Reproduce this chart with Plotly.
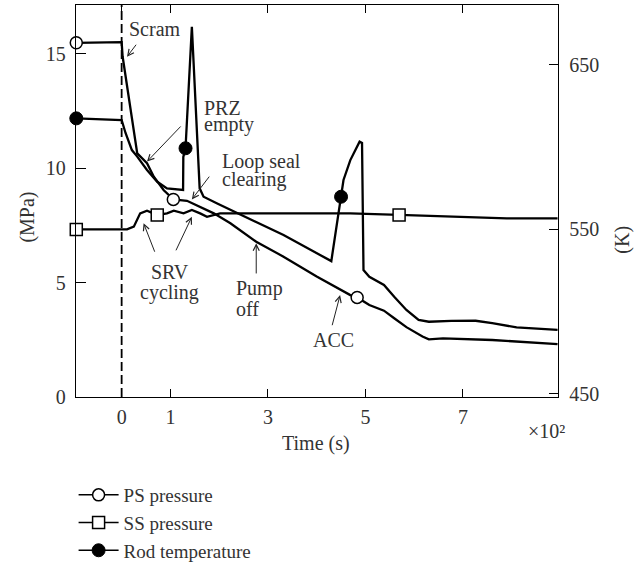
import plotly.graph_objects as go

# ---------------- data (time in x10^2 s) ----------------
t_ps = [-0.93, 0.0, 0.02, 0.32, 0.52, 0.66, 0.86, 1.06, 1.34, 1.61, 1.89, 2.23, 2.76,
        3.32, 4.00, 4.69, 4.83, 5.08, 5.38, 5.59, 5.84, 6.17, 6.30, 6.59, 7.60, 8.94]
p_ps = [15.47, 15.50, 14.87, 10.64, 10.21, 9.62, 9.04, 8.63, 8.57, 8.31, 8.02, 7.59, 6.78,
        6.13, 5.26, 4.45, 4.35, 4.02, 3.77, 3.44, 3.05, 2.64, 2.52, 2.56, 2.49, 2.31]
ps_marker_idx = [0, 7, 16]

t_ss = [-0.93, 0.11, 0.25, 0.38, 0.52, 0.73, 0.93, 1.07, 1.27, 1.44, 1.61, 1.75, 2.02,
        2.64, 3.32, 4.69, 5.69, 7.08, 7.90, 8.94]
p_ss = [7.32, 7.32, 7.44, 8.02, 8.14, 7.95, 8.02, 8.14, 8.02, 8.17, 8.02, 7.87, 8.02,
        8.02, 8.05, 8.02, 7.95, 7.87, 7.80, 7.80]
ss_marker_idx = [0, 5, 16]

t_rod = [-0.93, 0.0, 0.08, 0.21, 0.32, 0.52, 0.73, 0.93, 1.26, 1.265, 1.31, 1.44, 1.60,
         1.68, 1.95, 2.50, 3.32, 4.30, 4.50, 4.55, 4.69, 4.88, 4.93, 4.96, 5.08, 5.38,
         5.59, 5.84, 6.09, 6.30, 6.76, 7.26, 7.60, 8.10, 8.94]
k_rod = [617.5, 616.5, 608.6, 598.2, 594.2, 586.1, 578.9, 574.9, 573.9, 594.0, 599.3, 673.3, 574.9,
         569.8, 565.8, 558.1, 546.5, 530.6, 569.8, 580.0, 592.1, 603.3, 602.5, 525.2, 521.1, 516.1,
         508.9, 500.9, 494.8, 493.7, 494.2, 494.3, 492.8, 490.3, 488.7]
rod_marker_idx = [0, 10, 18]

x_ticks = [0, 1, 3, 5, 7]
y_ticks = [0, 5, 10, 15]
y2_ticks = [450, 550, 650]

FONT = "Liberation Serif"
TXT = "#333333"
LW = 2.3


def pick(seq, idx):
    out = []
    for n, i in enumerate(idx):
        if n:
            out.append(None)
        out.append(seq[i])
    return out


fig = go.Figure()

# curves
fig.add_trace(go.Scatter(x=t_ps, y=p_ps, mode="lines", line=dict(color="black", width=LW),
                         showlegend=False, cliponaxis=False))
fig.add_trace(go.Scatter(x=t_ss, y=p_ss, mode="lines", line=dict(color="black", width=LW),
                         showlegend=False, cliponaxis=False))
fig.add_trace(go.Scatter(x=t_rod, y=k_rod, mode="lines", yaxis="y2",
                         line=dict(color="black", width=LW), showlegend=False, cliponaxis=False))

# markers (also legend entries)
fig.add_trace(go.Scatter(x=pick(t_ps, ps_marker_idx), y=pick(p_ps, ps_marker_idx),
                         mode="lines+markers", name="PS pressure", connectgaps=False,
                         line=dict(color="black", width=1.5),
                         marker=dict(symbol="circle", size=12, color="white",
                                     line=dict(color="black", width=1.5)),
                         cliponaxis=False))
fig.add_trace(go.Scatter(x=pick(t_ss, ss_marker_idx), y=pick(p_ss, ss_marker_idx),
                         mode="lines+markers", name="SS pressure", connectgaps=False,
                         line=dict(color="black", width=1.5),
                         marker=dict(symbol="square", size=12, color="white",
                                     line=dict(color="black", width=1.5)),
                         cliponaxis=False))
fig.add_trace(go.Scatter(x=pick(t_rod, rod_marker_idx), y=pick(k_rod, rod_marker_idx),
                         mode="lines+markers", name="Rod temperature", connectgaps=False, yaxis="y2",
                         line=dict(color="black", width=1.5),
                         marker=dict(symbol="circle", size=13, color="black",
                                     line=dict(color="black", width=1)),
                         cliponaxis=False))

annotations = []
# arrows: (tip_x, tip_y, tail_x, tail_y) in data coords (left axis)
arrows = [
    (0.11, 14.86, 0.32, 15.45),   # Scram
    (0.52, 10.28, 1.24, 11.88),   # PRZ empty
    (1.44, 8.63, 1.82, 9.69),     # Loop seal clearing
    (0.45, 7.59, 0.69, 6.28),     # SRV 1
    (1.44, 7.87, 1.10, 6.34),     # SRV 2
    (2.76, 6.71, 2.76, 5.33),     # Pump off
    (4.48, 4.45, 4.31, 3.07),     # ACC
]
for (x, y, ax, ay) in arrows:
    annotations.append(dict(x=x, y=y, ax=ax, ay=ay, xref="x", yref="y", axref="x", ayref="y",
                            text="", showarrow=True, arrowhead=5, arrowsize=1.2,
                            arrowwidth=1, arrowcolor="#222222", standoff=0))

labels = [
    ("Scram", 0.117, 16.09, "left"),
    ("PRZ", 1.648, 12.62, "left"),
    ("empty", 1.648, 11.92, "left"),
    ("Loop seal", 2.023, 10.28, "left"),
    ("clearing", 2.023, 9.48, "left"),
    ("SRV", 0.988, 5.48, "center"),
    ("cycling", 0.988, 4.57, "center"),
    ("Pump", 2.295, 4.75, "left"),
    ("off", 2.295, 3.83, "left"),
    ("ACC", 4.35, 2.47, "center"),
]
for (txt, x, y, xa) in labels:
    annotations.append(dict(x=x, y=y, xref="x", yref="y", text=txt, showarrow=False,
                            xanchor=xa, yanchor="middle",
                            font=dict(family=FONT, size=20, color=TXT)))

# axis titles
annotations.append(dict(x=0.498, y=-0.1186, xref="paper", yref="paper", text="Time (s)",
                        showarrow=False, xanchor="center", yanchor="middle",
                        font=dict(family=FONT, size=20, color=TXT)))
annotations.append(dict(x=0.976, y=-0.0875, xref="paper", yref="paper", text="×10²",
                        showarrow=False, xanchor="center", yanchor="middle",
                        font=dict(family=FONT, size=20, color=TXT)))
annotations.append(dict(x=-0.1006, y=0.459, xref="paper", yref="paper", text="(MPa)",
                        showarrow=False, xanchor="center", yanchor="middle", textangle=-90,
                        font=dict(family=FONT, size=20, color=TXT)))
annotations.append(dict(x=1.132, y=0.4005, xref="paper", yref="paper", text="(K)",
                        showarrow=False, xanchor="center", yanchor="middle", textangle=-90,
                        font=dict(family=FONT, size=20, color=TXT)))

axis_common = dict(showline=True, linecolor="black", linewidth=1.3, ticks="inside",
                   tickcolor="black", tickwidth=1.3, showgrid=False, zeroline=False,
                   tickfont=dict(family=FONT, size=20, color=TXT))

fig.update_layout(
    width=643, height=562, autosize=False,
    margin=dict(l=76, r=85, t=5, b=165, pad=0),
    paper_bgcolor="white", plot_bgcolor="white",
    font=dict(family=FONT, size=20, color=TXT),
    xaxis=dict(range=[-0.936, 8.949], tickvals=x_ticks, ticklen=8, mirror="ticks",
               ticklabelstandoff=2, **axis_common),
    yaxis=dict(range=[0, 17.12], tickvals=y_ticks, ticklen=10, ticklabelstandoff=5,
               **axis_common),
    yaxis2=dict(range=[447.9, 686.5], tickvals=y2_ticks, ticklen=9, overlaying="y",
                side="right", ticklabelstandoff=6, **axis_common),
    shapes=[dict(type="line", xref="x", yref="paper", x0=0, x1=0, y0=0, y1=1,
                 line=dict(color="black", width=1.8, dash="9px,4px"))],
    annotations=annotations,
    legend=dict(x=-0.005, y=0.153, xref="paper", yref="container", xanchor="left", yanchor="top",
                bgcolor="rgba(0,0,0,0)",
                font=dict(family=FONT, size=19, color=TXT), itemwidth=40,
                tracegroupgap=0),
)

fig.write_html("out.html")
